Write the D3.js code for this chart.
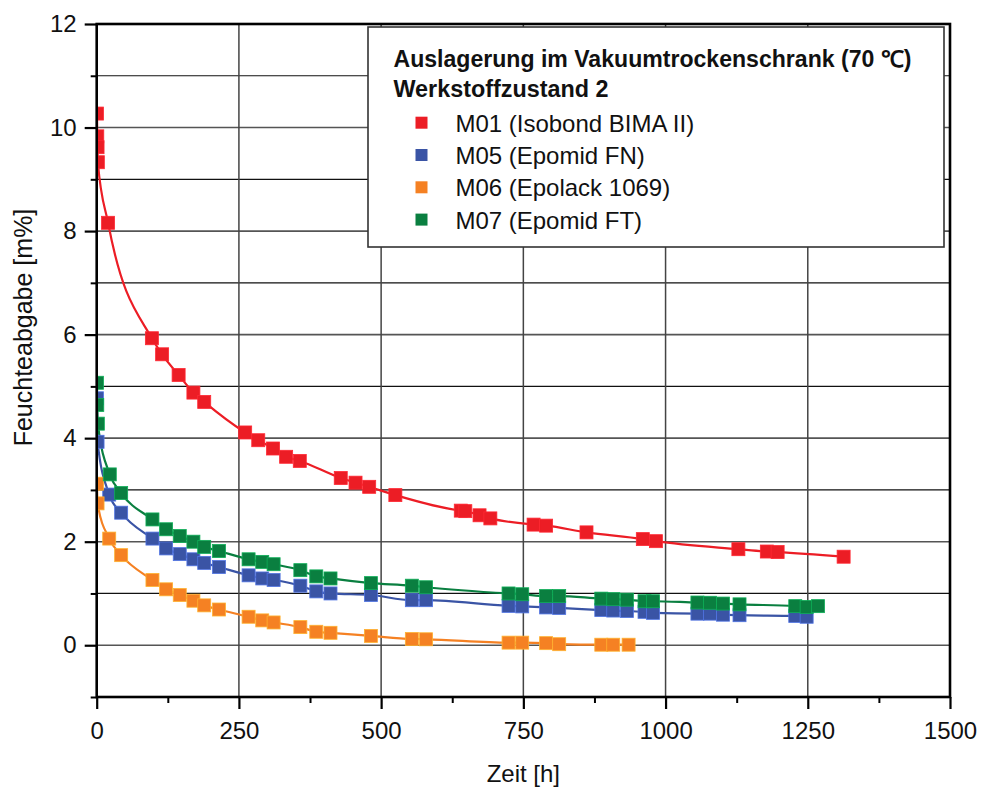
<!DOCTYPE html>
<html>
<head>
<meta charset="utf-8">
<script src="https://cdn.jsdelivr.net/npm/d3@7"></script>
<style>
  body { margin: 0; background: #fff; }
  svg { font-family: "Liberation Sans", Arial, sans-serif; }
</style>
</head>
<body>
<svg id="chart" width="982" height="791"></svg>
<script>
// Messwerte: Zeit [h] und Feuchteabgabe [m%]
const m01Zeit = [0.5, 1, 1.5, 2, 20, 97, 115, 144, 170, 189, 261, 284, 310, 333, 357, 429, 455, 479, 525, 640, 648, 673, 692, 768, 790, 861, 960, 983, 1128, 1178, 1197, 1313];
const m01Wert = [10.27, 9.83, 9.62, 9.33, 8.16, 5.93, 5.62, 5.22, 4.88, 4.70, 4.11, 3.96, 3.80, 3.64, 3.56, 3.23, 3.14, 3.06, 2.90, 2.60, 2.59, 2.51, 2.45, 2.33, 2.31, 2.18, 2.05, 2.01, 1.855, 1.81, 1.80, 1.71];

const m05Zeit = [0.5, 1.5, 22, 43, 98, 122, 146, 170, 189, 215, 267, 291, 311, 358, 386, 411, 482, 554, 579, 724, 748, 790, 813, 887, 908, 932, 963, 978, 1056, 1078, 1101, 1130, 1228, 1248];
const m05Wert = [4.77, 3.93, 2.91, 2.56, 2.06, 1.87, 1.76, 1.66, 1.59, 1.51, 1.35, 1.29, 1.26, 1.15, 1.04, 1.00, 0.97, 0.87, 0.87, 0.76, 0.75, 0.73, 0.72, 0.68, 0.67, 0.66, 0.645, 0.625, 0.61, 0.61, 0.59, 0.58, 0.566, 0.55];

const m06Zeit = [0.5, 1.5, 22, 43, 98, 122, 146, 170, 189, 215, 267, 291, 311, 358, 386, 411, 482, 554, 579, 724, 748, 790, 813, 887, 908, 935];
const m06Wert = [3.12, 2.74, 2.06, 1.74, 1.26, 1.08, 0.97, 0.86, 0.77, 0.69, 0.55, 0.48, 0.44, 0.35, 0.26, 0.24, 0.18, 0.12, 0.115, 0.05, 0.05, 0.04, 0.02, 0.01, 0.01, 0.01];

const m07Zeit = [0.5, 1, 2, 23, 43, 98, 122, 146, 170, 189, 215, 267, 291, 311, 358, 386, 411, 482, 554, 579, 724, 748, 790, 813, 887, 908, 932, 963, 978, 1056, 1078, 1101, 1130, 1228, 1248, 1268];
const m07Wert = [5.07, 4.64, 4.28, 3.30, 2.94, 2.43, 2.24, 2.11, 2.00, 1.90, 1.82, 1.66, 1.61, 1.565, 1.45, 1.33, 1.29, 1.20, 1.15, 1.12, 1.00, 0.985, 0.95, 0.95, 0.90, 0.89, 0.88, 0.85, 0.85, 0.825, 0.82, 0.805, 0.79, 0.755, 0.74, 0.755];

const seriesNames = ["M01 (Isobond BIMA II)", "M05 (Epomid FN)", "M06 (Epolack 1069)", "M07 (Epomid FT)"];
const seriesColors = ["#ec1d25", "#3a54a5", "#f58123", "#0a7f40"];

const xTicks = [0, 250, 500, 750, 1000, 1250, 1500];
const xMinorTicks = [125, 375, 625, 875, 1125, 1375];
const yTicks = [0, 2, 4, 6, 8, 10, 12];
const yMinorTicks = [-1, 1, 3, 5, 7, 9, 11];
const legendTitle = ["Auslagerung im Vakuumtrockenschrank (70 \u2103)", "Werkstoffzustand 2"];

// layout
const pLeft = 96.7, pRight = 950, pTop = 24, pBottom = 697;

const series = [
  { name: seriesNames[0], color: seriesColors[0], pts: m01Zeit.map((t, i) => ({ x: t, y: m01Wert[i] })) },
  { name: seriesNames[1], color: seriesColors[1], pts: m05Zeit.map((t, i) => ({ x: t, y: m05Wert[i] })) },
  { name: seriesNames[2], color: seriesColors[2], pts: m06Zeit.map((t, i) => ({ x: t, y: m06Wert[i] })) },
  { name: seriesNames[3], color: seriesColors[3], pts: m07Zeit.map((t, i) => ({ x: t, y: m07Wert[i] })) }
];

const svg = d3.select("#chart");

const x = d3.scaleLinear([0, 1500], [pLeft, pRight]);
const y = d3.scaleLinear([-1, 12], [pBottom, pTop]);

// gitter
const gridY = d3.range(0, 12);
svg.append("g").selectAll("line")
  .data(gridY)
  .enter().append("line")
  .attr("x1", pLeft).attr("x2", pRight)
  .attr("y1", d => y(d)).attr("y2", d => y(d))
  .attr("stroke", d => d % 2 === 0 ? "#555" : "#111")
  .attr("stroke-width", d => d % 2 === 0 ? 1.6 : 1.2);

svg.append("g").selectAll("line")
  .data(xTicks.slice(1, -1))
  .enter().append("line")
  .attr("x1", d => x(d)).attr("x2", d => x(d))
  .attr("y1", pTop).attr("y2", pBottom)
  .attr("stroke", "#444")
  .attr("stroke-width", 1.5);

svg.append("clipPath").attr("id", "plotclip")
  .append("rect")
  .attr("x", pLeft).attr("y", pTop)
  .attr("width", pRight - pLeft).attr("height", pBottom - pTop);

const plot = svg.append("g").attr("clip-path", "url(#plotclip)");

const line = d3.line()
  .x(d => x(d.x))
  .y(d => y(d.y))
  .curve(d3.curveMonotoneX);

plot.selectAll("path.kurve")
  .data(series)
  .enter().append("path")
  .attr("class", "kurve")
  .attr("d", d => line(d.pts))
  .attr("fill", "none")
  .attr("stroke", d => d.color)
  .attr("stroke-width", 2.2);

const ms = 13;
series.forEach(s => {
  plot.append("g").selectAll("rect")
    .data(s.pts)
    .enter().append("rect")
    .attr("x", d => x(d.x) - ms / 2)
    .attr("y", d => y(d.y) - ms / 2)
    .attr("width", ms).attr("height", ms)
    .attr("fill", s.color)
    .attr("stroke", d3.color(s.color).brighter(0.9))
    .attr("stroke-width", 0.8);
});

// achsen
const tickFont = g => g.selectAll("text")
  .attr("font-size", "24px")
  .attr("font-family", "Liberation Sans, Arial, sans-serif")
  .attr("fill", "#111");

svg.append("g")
  .attr("transform", `translate(0,${pBottom})`)
  .call(d3.axisBottom(x).tickValues(xMinorTicks).tickSize(6).tickFormat(""))
  .call(g => g.select(".domain").remove())
  .call(g => g.selectAll("line").attr("stroke-width", 2));

svg.append("g")
  .attr("transform", `translate(0,${pBottom})`)
  .call(d3.axisBottom(x).tickValues(xTicks).tickSize(12).tickPadding(13).tickFormat(d3.format("d")))
  .call(g => g.select(".domain").remove())
  .call(g => g.selectAll("line").attr("stroke-width", 2.2))
  .call(tickFont);

svg.append("g")
  .attr("transform", `translate(${pLeft},0)`)
  .call(d3.axisLeft(y).tickValues(yMinorTicks).tickSize(6).tickFormat(""))
  .call(g => g.select(".domain").remove())
  .call(g => g.selectAll("line").attr("stroke-width", 2));

svg.append("g")
  .attr("transform", `translate(${pLeft},0)`)
  .call(d3.axisLeft(y).tickValues(yTicks).tickSize(12).tickPadding(8).tickFormat(d3.format("d")))
  .call(g => g.select(".domain").remove())
  .call(g => g.selectAll("line").attr("stroke-width", 2.2))
  .call(tickFont);

// rahmen
svg.append("rect")
  .attr("x", pLeft).attr("y", pTop)
  .attr("width", pRight - pLeft).attr("height", pBottom - pTop)
  .attr("fill", "none")
  .attr("stroke", "#000")
  .attr("stroke-width", 2.6);

svg.append("text")
  .attr("x", (pLeft + pRight) / 2)
  .attr("y", 782)
  .attr("text-anchor", "middle")
  .attr("font-size", "24px")
  .attr("fill", "#111")
  .text("Zeit [h]");

svg.append("text")
  .attr("transform", "translate(32,327.5) rotate(-90)")
  .attr("text-anchor", "middle")
  .attr("font-size", "25px")
  .attr("fill", "#111")
  .text("Feuchteabgabe [m%]");

// legende
const leg = svg.append("g");
leg.append("rect")
  .attr("x", 368).attr("y", 27)
  .attr("width", 576).attr("height", 220)
  .attr("fill", "#fff")
  .attr("stroke", "#333")
  .attr("stroke-width", 1.6);

const titleLens = [518, 215];
leg.selectAll("text.titel")
  .data(legendTitle)
  .enter().append("text")
  .attr("class", "titel")
  .attr("x", 393.5)
  .attr("y", (d, i) => 66.7 + i * 30.6)
  .attr("font-size", "23px")
  .attr("font-weight", "bold")
  .attr("fill", "#111")
  .attr("textLength", (d, i) => titleLens[i])
  .attr("lengthAdjust", "spacingAndGlyphs")
  .text(d => d);

const rows = leg.selectAll("g.eintrag")
  .data(series)
  .enter().append("g")
  .attr("class", "eintrag")
  .attr("transform", (d, i) => `translate(0,${131.7 + i * 32.3})`);

rows.append("rect")
  .attr("x", 415.5).attr("y", -15)
  .attr("width", 12).attr("height", 12)
  .attr("fill", d => d.color);

rows.append("text")
  .attr("x", 455.4)
  .attr("y", 0)
  .attr("font-size", "24px")
  .attr("fill", "#111")
  .text(d => d.name);
</script>
</body>
</html>
